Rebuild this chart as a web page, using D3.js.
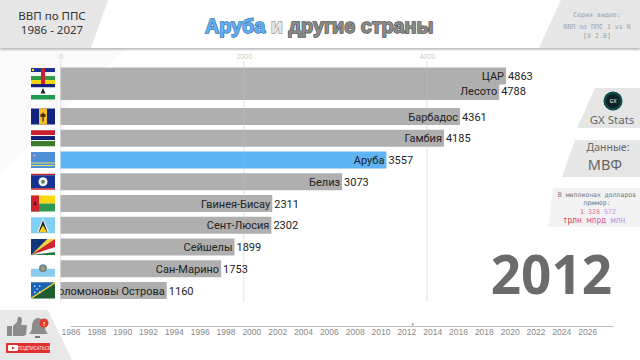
<!DOCTYPE html>
<html>
<head>
<meta charset="utf-8">
<script src="https://cdn.jsdelivr.net/npm/d3@7"></script>
<style>
  html, body { margin: 0; padding: 0; background: #fff; }
  svg { display: block; }
  .domain { stroke: #bbb; }
</style>
</head>
<body>
<script>
//Values
var countries = ["Лесото", "ЦАР", "Барбадос", "Гамбия", "Аруба", "Белиз", "Гвинея-Бисау", "Сент-Люсия", "Сейшелы", "Сан-Марино", "Соломоновы Острова"];
var gdp = [4788, 4863, 4361, 4185, 3557, 3073, 2311, 2302, 1899, 1753, 1160];
//Ranks are fractional because the frame is caught mid swap
var ranks = [0.85, 0.14, 2, 3, 4, 5, 6, 7, 8, 9, 10];
var gridTicks = [0, 2000, 4000];
var yearTicks = [1986, 1988, 1990, 1992, 1994, 1996, 1998, 2000, 2002, 2004, 2006, 2008, 2010, 2012, 2014, 2016, 2018, 2020, 2022, 2024, 2026];
var currentYear = 2012;
var highlight = "Аруба";

var W = 640;
var H = 360;
var BarH = 17;
var textFont = "'Open Sans', sans-serif";
var barFont = "Roboto, sans-serif";
var headFont = "'Noto Sans', sans-serif";
var monoFont = "'DejaVu Sans Mono', monospace";

function main() {
  var svg = d3.select("body").append("svg").attr("width", W).attr("height", H);
  var xScale = d3.scaleLinear().domain([0, 4000]).range([60.5, 427]);
  var yScale = d3.scaleLinear().domain([2, 10]).range([116.5, 290.5]);
  var timeScale = d3.scaleLinear().domain([1986, 2028]).range([70.5, 613]);

  drawBackground(svg);
  drawBars(svg, xScale, yScale);
  drawHeader(svg);
  drawPanels(svg);
  drawTimeline(svg, timeScale);
  drawSubscribe(svg);

  svg.append("text")
    .attr("x", 612).attr("y", 294)
    .attr("text-anchor", "end")
    .style("font", "bold 53px " + textFont)
    .style("fill", "#6b6b6b")
    .text(currentYear);
}

function poly(svg, pts, fill) {
  return svg.append("polygon").attr("points", pts.join(" ")).attr("fill", fill);
}

function drawBackground(svg) {
  poly(svg, ["0,48", "125,48", "0,175"], "#fafafa");
}

function drawBars(svg, xScale, yScale) {
  //Grid goes behind the bars, plus a faint pass on top of them
  var axis = d3.axisTop(xScale).tickValues(gridTicks).tickSize(0).tickFormat(d3.format("d"));
  var gAxis = svg.append("g").attr("transform", "translate(0,60)").call(axis);
  gAxis.select(".domain").remove();
  gAxis.selectAll("text").attr("y", -1).style("font", "7px " + textFont).style("fill", "#c8c8c8");

  svg.selectAll("line.grid").data(gridTicks).enter().append("line")
    .attr("class", "grid")
    .attr("x1", function(d) { return xScale(d); })
    .attr("x2", function(d) { return xScale(d); })
    .attr("y1", 61).attr("y2", 302)
    .attr("stroke", "#e2e2e2");

  svg.selectAll("rect.bar").data(countries).enter().append("rect")
    .attr("class", "bar")
    .attr("x", xScale(0))
    .attr("y", function(d, i) { return yScale(ranks[i]) - BarH / 2; })
    .attr("width", function(d, i) { return xScale(gdp[i]) - xScale(0); })
    .attr("height", BarH)
    .attr("fill", function(d) { return d == highlight ? "#5fb4f5" : "#afafaf"; });

  svg.selectAll("line.gridTop").data(gridTicks).enter().append("line")
    .attr("class", "gridTop")
    .attr("x1", function(d) { return xScale(d); })
    .attr("x2", function(d) { return xScale(d); })
    .attr("y1", 61).attr("y2", 302)
    .attr("stroke", "#fff").attr("stroke-opacity", 0.12);

  //Names are cut off at the axis, like the long Solomon Islands label
  svg.append("clipPath").attr("id", "barClip").append("rect")
    .attr("x", xScale(0)).attr("y", 60).attr("width", 560).attr("height", 245);

  svg.append("g").attr("clip-path", "url(#barClip)")
    .selectAll("text").data(countries).enter().append("text")
    .attr("x", function(d, i) { return xScale(gdp[i]) - 2; })
    .attr("y", function(d, i) { return yScale(ranks[i]) + 4; })
    .attr("text-anchor", "end")
    .style("font", "11px " + barFont)
    .style("fill", "#222")
    .text(function(d) { return d; });

  svg.selectAll("text.val").data(countries).enter().append("text")
    .attr("class", "val")
    .attr("x", function(d, i) { return xScale(gdp[i]) + 2; })
    .attr("y", function(d, i) { return yScale(ranks[i]) + 4; })
    .style("font", "11px " + barFont)
    .style("fill", "#222")
    .text(function(d, i) { return gdp[i]; });

  //Flags
  countries.forEach(function(name, i) {
    var g = svg.append("g")
      .attr("transform", "translate(31," + (yScale(ranks[i]) - 8) + ")");
    flags[name](g);
  });
}

function hStripes(g, list) {
  //list of [height, colour], stacked from the top
  var y = 0;
  list.forEach(function(s) {
    g.append("rect").attr("width", 24).attr("y", y).attr("height", s[0]).attr("fill", s[1]);
    y += s[0];
  });
}

function box(g, x, y, w, h, fill) {
  g.append("rect").attr("x", x).attr("y", y).attr("width", w).attr("height", h).attr("fill", fill);
}

var flags = {
  "ЦАР": function(g) {
    hStripes(g, [[4, "#1a2f8f"], [4, "#f2f2f2"], [4, "#2f9a45"], [4, "#f5d80f"]]);
    box(g, 10, 0, 4, 16, "#c8202f");
    box(g, 1, 1, 2, 2, "#f5d80f");
  },
  "Лесото": function(g) {
    hStripes(g, [[4, "#101f80"], [7.5, "#fff"], [4.5, "#1f9a4e"]]);
    poly(g, ["12,4.5", "14.5,10", "9.5,10"], "#222");
  },
  "Барбадос": function(g) {
    box(g, 0, 0, 24, 16, "#12247f");
    box(g, 8, 0, 8, 16, "#f6bf26");
    box(g, 11.4, 4, 1.2, 9, "#222");
    box(g, 9.5, 5.5, 5, 3, "#443318");
  },
  "Гамбия": function(g) {
    hStripes(g, [[5, "#c8202f"], [0.8, "#fff"], [4.2, "#101f70"], [0.8, "#fff"], [5.2, "#3a7a28"]]);
  },
  "Аруба": function(g) {
    box(g, 0, 0, 24, 16, "#4d8fd6");
    box(g, 0, 10.5, 24, 1, "#e9e26a");
    box(g, 0, 13, 24, 1, "#e9e26a");
    poly(g, ["3.5,2", "5,3.5", "3.5,5", "2,3.5"], "#d9a0a0");
  },
  "Белиз": function(g) {
    hStripes(g, [[1.5, "#c8202f"], [13, "#14338f"], [1.5, "#c8202f"]]);
    g.append("circle").attr("cx", 12).attr("cy", 8).attr("r", 4.5).attr("fill", "#f4f4f4");
    g.append("circle").attr("cx", 12).attr("cy", 8).attr("r", 2).attr("fill", "#5c8a5c");
  },
  "Гвинея-Бисау": function(g) {
    hStripes(g, [[8, "#fbd80f"], [8, "#2f9a4e"]]);
    box(g, 0, 0, 8, 16, "#d22030");
    poly(g, ["4,5", "5.5,9.5", "2.5,9.5"], "#222");
  },
  "Сент-Люсия": function(g) {
    box(g, 0, 0, 24, 16, "#7fd0f5");
    poly(g, ["12,1", "18,15", "6,15"], "#f4f4f4");
    poly(g, ["12,3", "16.5,15", "7.5,15"], "#222");
    poly(g, ["12,8", "16,15", "8,15"], "#f5d020");
  },
  "Сейшелы": function(g) {
    box(g, 0, 0, 24, 16, "#1f7a3f");
    poly(g, ["0,16", "24,11", "24,13", "0,16"], "#fff");
    poly(g, ["0,16", "24,5", "24,11"], "#d8202f");
    poly(g, ["0,16", "24,0", "24,5"], "#d8202f");
    poly(g, ["0,16", "16,0", "24,0"], "#f4d04a");
    poly(g, ["0,16", "0,0", "8,0"], "#12347f");
    poly(g, ["0,16", "8,0", "16,0"], "#12347f");
    poly(g, ["0,16", "24,8", "24,12"], "#fff");
  },
  "Сан-Марино": function(g) {
    hStripes(g, [[8, "#fff"], [8, "#8ccbee"]]);
    g.append("circle").attr("cx", 12).attr("cy", 7.5).attr("r", 4).attr("fill", "#6f8a9e");
    box(g, 10.6, 6, 2.8, 3.5, "#c59a4a");
  },
  "Соломоновы Острова": function(g) {
    box(g, 0, 0, 24, 16, "#1f5c30");
    poly(g, ["0,0", "23,0", "0,15"], "#1b63b8");
    poly(g, ["24,0", "24,1", "1,16", "0,16", "0,15", "23,0"], "#f0d040");
    [[3, 3], [8, 3], [5.5, 6], [3, 9], [8, 9]].forEach(function(p) {
      box(g, p[0], p[1], 1.3, 1.3, "#fff");
    });
  }
};

function drawHeader(svg) {
  //White band with a soft shadow under it
  var f = svg.append("filter").attr("id", "soft").attr("height", "140%");
  f.append("feGaussianBlur").attr("stdDeviation", 1.2);
  svg.append("rect").attr("x", 0).attr("y", 47).attr("width", W).attr("height", 2.5)
    .attr("fill", "#aaa").attr("filter", "url(#soft)");
  svg.append("rect").attr("width", W).attr("height", 48).attr("fill", "#fff");

  poly(svg, ["0,0", "108,0", "91,48", "0,48"], "#e6e6e6");
  poly(svg, ["561,0", "640,0", "640,48", "539,48"], "#e6e6e6");

  svg.selectAll("text.head").data(["ВВП по ППС", "1986 - 2027"]).enter().append("text")
    .attr("class", "head")
    .attr("x", 52)
    .attr("y", function(d, i) { return 20 + i * 13.5; })
    .attr("text-anchor", "middle")
    .style("font", "11.5px " + headFont)
    .style("fill", "#333")
    .text(function(d) { return d; });

  var title = svg.append("text")
    .attr("x", 205).attr("y", 33)
    .style("font", "bold 19.8px 'Liberation Sans', sans-serif")
    .style("paint-order", "stroke")
    .style("stroke-width", 1.4);
  title.append("tspan").text("Аруба").style("fill", "#63aef0").style("stroke", "#3a78b0");
  title.append("tspan").text(" и ").style("fill", "#e8e8e8").style("stroke", "#999");
  title.append("tspan").text("другие страны").style("fill", "#8a8a8a").style("stroke", "#555");

  var lines = [["Серия видео:", 17], ["ВВП по ППС 1 vs N", 29], ["[V 2.0]", 37.5]];
  svg.selectAll("text.series").data(lines).enter().append("text")
    .attr("class", "series")
    .attr("x", 597)
    .attr("y", function(d) { return d[1]; })
    .attr("text-anchor", "middle")
    .style("font", "6.6px " + monoFont)
    .style("fill", "#a0a0a0")
    .text(function(d) { return d[0]; });
}

function label(svg, x, y, txt, font, fill) {
  return svg.append("text").attr("x", x).attr("y", y)
    .attr("text-anchor", "middle")
    .style("font", font).style("fill", fill)
    .text(txt);
}

function drawPanels(svg) {
  poly(svg, ["595,88", "640,88", "640,128", "577,128"], "#e6e6e6");
  poly(svg, ["575,140", "640,140", "640,177", "562,177"], "#e6e6e6");
  poly(svg, ["553,188", "640,188", "640,227", "548,227"], "#f2f2f2");

  //GX logo
  svg.append("circle").attr("cx", 613).attr("cy", 101).attr("r", 9.5).attr("fill", "#0c4a48");
  svg.append("circle").attr("cx", 613).attr("cy", 101).attr("r", 7).attr("fill", "#10202a");
  label(svg, 613, 103, "GX", "bold 5px " + textFont, "#9fd8cf");
  label(svg, 612, 124, "GX Stats", "11.5px " + headFont, "#666");

  label(svg, 608, 151, "Данные:", "10.5px " + headFont, "#666");
  label(svg, 605, 170, "МВФ", "14.5px " + headFont, "#666");

  label(svg, 597, 197, "В миллионах долларов", "6.5px " + monoFont, "#777");
  label(svg, 597, 205, "пример:", "6.5px " + monoFont, "#777");

  var sample = label(svg, 598, 214, "", "6.6px " + monoFont, "#e07090");
  sample.append("tspan").text("1 ").style("fill", "#e05a7a");
  sample.append("tspan").text("328 ").style("fill", "#e070a0");
  sample.append("tspan").text("572").style("fill", "#c090e8");

  var units = label(svg, 594, 222.5, "", "8px " + monoFont, "#e07090");
  units.append("tspan").text("трлн ").style("fill", "#e04050");
  units.append("tspan").text("млрд ").style("fill", "#e060a0");
  units.append("tspan").text("млн").style("fill", "#c090e8");
}

function drawTimeline(svg, timeScale) {
  var axis = d3.axisBottom(timeScale)
    .tickValues(yearTicks)
    .tickSize(0)
    .tickFormat(d3.format("d"));
  var g = svg.append("g").attr("transform", "translate(0,326)").call(axis);
  g.select(".domain").attr("stroke", "#bbb");
  g.selectAll("text").attr("y", 3).style("font", "8.5px 'Liberation Sans', sans-serif").style("fill", "#888");

  var x = timeScale(currentYear + 0.5);
  poly(svg, [x + ",326", (x - 1.5) + ",323.5", (x + 1.5) + ",323.5"], "#999");
}

function drawSubscribe(svg) {
  poly(svg, ["0,310", "48,310", "72,360", "0,360"], "#e8e8e8");

  //Thumb
  svg.append("path")
    .attr("d", "M7,326h5v10h-5z M13,326l4,-4l1,-5l3,0l1,3l-1,5h6l-1,10l-3,1h-10z")
    .attr("fill", "#8c8c8c");

  //Bell
  svg.append("path")
    .attr("d", "M38,318c-4,0 -6,4 -6,8c0,4 -1,6 -3,8h19c-2,-2 -3,-4 -3,-8c0,-4 -3,-8 -7,-8z")
    .attr("fill", "#8c8c8c");
  svg.append("rect").attr("x", 35).attr("y", 336).attr("width", 5).attr("height", 2).attr("fill", "#777");
  svg.append("circle").attr("cx", 44).attr("cy", 323).attr("r", 4.5).attr("fill", "#e23c32");
  label(svg, 44, 325.5, "!", "bold 6px " + textFont, "#fff");

  //Subscribe button
  svg.append("rect").attr("x", 6).attr("y", 343).attr("width", 44).attr("height", 10).attr("rx", 1).attr("fill", "#e02f2f");
  svg.append("rect").attr("x", 8).attr("y", 345).attr("width", 10).attr("height", 6).attr("rx", 1).attr("fill", "#fff");
  poly(svg, ["12,346.5", "15,348", "12,349.5"], "#e02f2f");
  label(svg, 34, 350, "ПОДПИСАТЬСЯ", "4.5px " + textFont, "#fff");
}

main();
</script>
</body>
</html>
